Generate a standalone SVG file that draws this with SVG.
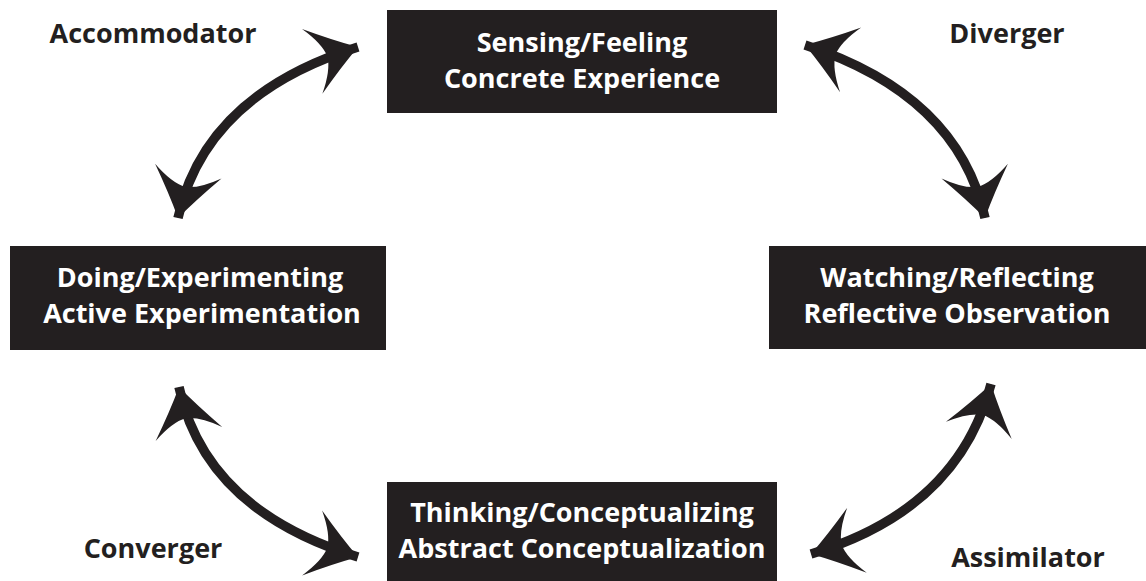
<svg xmlns="http://www.w3.org/2000/svg" width="1146" height="581" viewBox="0 0 1146 581">
<style>
.box{fill:#231f20}
.bt{fill:#ffffff;font-family:"Open Sans","Noto Sans",sans-serif;font-weight:bold;font-size:27px;text-anchor:middle}
.lbl{fill:#231f20;font-family:"Open Sans","Noto Sans",sans-serif;font-weight:bold;font-size:27px;text-anchor:middle}
.arc{fill:none;stroke:#231f20;stroke-width:9.5}
</style>
<defs>
<marker id="head" markerUnits="userSpaceOnUse" viewBox="-60 -40 65 80" refX="0" refY="0" markerWidth="65" markerHeight="80" orient="auto-start-reverse">
<path d="M0,0 Q-22,-14 -48,-34 Q-33,-14 -32,0 Q-33,14 -48,34 Q-22,14 0,0 Z" fill="#231f20"/>
</marker>
</defs>
<g id="connectors">
<path class="arc" d="M178,218 Q205,95 358,47" marker-start="url(#head)" marker-end="url(#head)"/>
<path class="arc" d="M985,218 Q958,95 805,45" marker-start="url(#head)" marker-end="url(#head)"/>
<path class="arc" d="M179,387 Q205,510 358,557" marker-start="url(#head)" marker-end="url(#head)"/>
<path class="arc" d="M991,384 Q958,510 811,554" marker-start="url(#head)" marker-end="url(#head)"/>
</g>
<g id="node-concrete">
<rect class="box" x="387" y="10" width="390" height="103"/>
<text class="bt" x="582" y="52">Sensing/Feeling</text>
<text class="bt" x="582" y="88">Concrete Experience</text>
</g>
<g id="node-active">
<rect class="box" x="10" y="246" width="376" height="104"/>
<text class="bt" x="200" y="287">Doing/Experimenting</text>
<text class="bt" x="202" y="323">Active Experimentation</text>
</g>
<g id="node-reflective">
<rect class="box" x="769" y="246" width="377" height="103"/>
<text class="bt" x="957" y="287">Watching/Reflecting</text>
<text class="bt" x="957" y="323">Reflective Observation</text>
</g>
<g id="node-abstract">
<rect class="box" x="387" y="482" width="390" height="99"/>
<text class="bt" x="582" y="522">Thinking/Conceptualizing</text>
<text class="bt" x="582" y="558">Abstract Conceptualization</text>
</g>
<g id="labels">
<text class="lbl" x="153" y="43">Accommodator</text>
<text class="lbl" x="1007" y="43">Diverger</text>
<text class="lbl" x="153" y="558">Converger</text>
<text class="lbl" x="1028" y="567">Assimilator</text>
</g>
</svg>
